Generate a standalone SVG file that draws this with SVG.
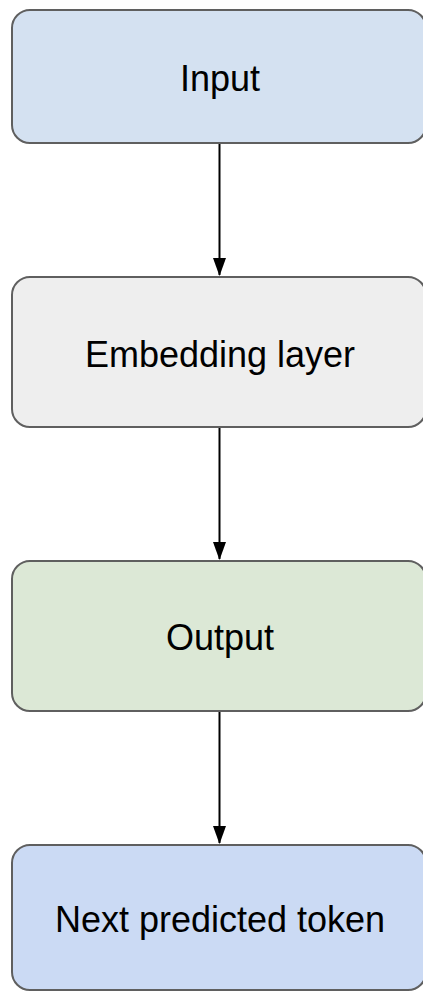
<svg xmlns="http://www.w3.org/2000/svg" width="423" height="992" viewBox="0 0 423 992">
  <style>
    .box { stroke: #5f5f5f; stroke-width: 2; }
    .label { font-family: "Liberation Sans", Arial, sans-serif; font-size: 36px; fill: #000; text-anchor: middle; }
    .edge { stroke: #000; stroke-width: 2; fill: none; marker-end: url(#arrow); }
  </style>
  <defs>
    <!-- solid arrowhead: 18px long, 13px wide -->
    <marker id="arrow" markerWidth="18" markerHeight="13" refX="17" refY="6.5" orient="auto" markerUnits="userSpaceOnUse">
      <path d="M0,0 L18,6.5 L0,13 Z" fill="#000"/>
    </marker>
  </defs>
  <rect width="423" height="992" fill="#fff"/>

  <g id="connectors">
    <line class="edge" x1="219.5" y1="144" x2="219.5" y2="275"/>
    <line class="edge" x1="219.5" y1="428" x2="219.5" y2="559"/>
    <line class="edge" x1="219.5" y1="712" x2="219.5" y2="843"/>
  </g>

  <g id="input">
    <rect class="box" x="12" y="10" width="414" height="133" rx="18" fill="#d4e1f1"/>
    <text class="label" x="220" y="90.5">Input</text>
  </g>
  <g id="embedding-layer">
    <rect class="box" x="12" y="277" width="414" height="150" rx="18" fill="#eeeeee"/>
    <text class="label" x="220" y="366.5">Embedding layer</text>
  </g>
  <g id="output">
    <rect class="box" x="12" y="561" width="414" height="150" rx="18" fill="#dce8d6"/>
    <text class="label" x="220" y="649.5">Output</text>
  </g>
  <g id="next-token">
    <rect class="box" x="12" y="845" width="414" height="145" rx="18" fill="#cbdaf4"/>
    <text class="label" x="220" y="932">Next predicted token</text>
  </g>
</svg>
